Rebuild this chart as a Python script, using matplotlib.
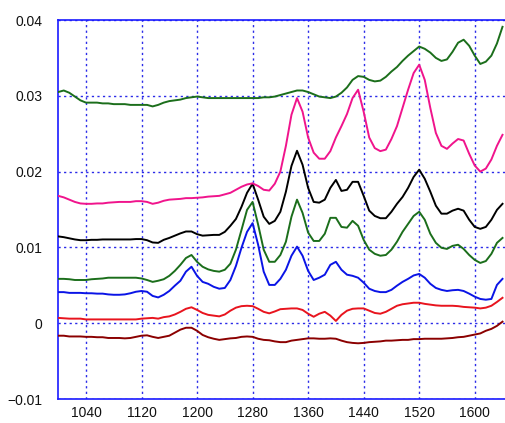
import numpy as np
import matplotlib
matplotlib.use("Agg")
import matplotlib.pyplot as plt

# wavenumber grid (cm^-1)
wavenumber = list(range(1000, 1641, 8))

# absorbance values in milli-absorbance units
top_green_mA = [30.5, 30.7, 30.4, 29.9, 29.4, 29.1, 29.1, 29.1, 29.0, 29.0,
                28.9, 28.9, 28.9, 28.8, 28.8, 28.8, 28.8, 28.6, 28.8, 29.1,
                29.3, 29.4, 29.5, 29.7, 29.8, 29.9, 29.8, 29.7, 29.7, 29.7,
                29.7, 29.7, 29.7, 29.7, 29.7, 29.7, 29.7, 29.8, 29.8, 29.9,
                30.1, 30.3, 30.5, 30.7, 30.7, 30.5, 30.2, 29.9, 29.8, 29.7,
                29.9, 30.4, 31.1, 32.1, 32.6, 32.5, 32.1, 31.9, 32.0, 32.5,
                33.2, 33.8, 34.6, 35.3, 35.9, 36.5, 36.2, 35.7, 35.0, 34.6,
                34.8, 35.8, 37.0, 37.4, 36.6, 35.3, 34.2, 34.5, 35.3, 36.9,
                39.1]
pink_mA = [16.8, 16.6, 16.3, 16.0, 15.8, 15.75, 15.75, 15.8, 15.8, 15.9,
           15.95, 16.0, 16.0, 16.0, 16.1, 16.1, 16.0, 15.75, 15.9, 16.15,
           16.3, 16.35, 16.4, 16.5, 16.5, 16.55, 16.6, 16.7, 16.75, 16.8,
           17.0, 17.2, 17.6, 18.0, 18.3, 18.45, 18.1, 17.6, 17.5, 18.4,
           20.0, 23.4, 27.5, 29.7, 27.9, 24.5, 22.5, 21.7, 21.7, 22.7,
           24.5, 26.0, 27.6, 29.7, 30.8, 27.9, 24.5, 23.1, 22.7, 22.9,
           24.3, 26.0, 28.4, 30.8, 33.0, 34.1, 32.1, 28.4, 25.1, 23.4,
           23.0, 23.7, 24.3, 24.1, 22.35, 20.8, 20.0, 20.4, 21.6, 23.4,
           24.85]
black_mA = [11.45, 11.35, 11.2, 11.05, 10.95, 10.95, 11.0, 11.0, 11.05, 11.05,
            11.05, 11.05, 11.05, 11.05, 11.1, 11.1, 10.95, 10.65, 10.6, 11.0,
            11.25, 11.55, 11.85, 12.1, 12.1, 11.75, 11.55, 11.6, 11.65, 11.65,
            12.05, 12.85, 13.75, 15.35, 17.2, 18.4, 16.3, 14.05, 13.1, 13.5,
            14.7, 17.35, 20.75, 22.75, 20.9, 17.85, 16.0, 15.9, 16.3, 17.85,
            18.9, 17.45, 17.6, 18.65, 18.65, 16.8, 14.85, 14.15, 13.85, 13.85,
            14.7, 15.75, 16.65, 17.85, 19.3, 20.25, 19.05, 17.35, 15.5, 14.45,
            14.45, 14.85, 15.1, 14.85, 13.65, 12.7, 12.45, 12.7, 13.65, 14.95,
            15.75]
green_mA = [5.85, 5.85, 5.8, 5.7, 5.7, 5.7, 5.8, 5.85, 5.9, 6.0,
            6.0, 6.0, 6.0, 6.0, 6.0, 5.9, 5.7, 5.45, 5.6, 5.8,
            6.25, 6.9, 7.7, 8.6, 9.0, 8.1, 7.45, 7.1, 6.9, 6.8,
            7.05, 7.85, 9.7, 12.3, 14.95, 16.0, 13.0, 9.7, 8.1, 8.1,
            9.0, 10.75, 14.05, 16.3, 14.55, 11.95, 10.85, 10.85, 11.8, 13.9,
            13.9, 12.7, 12.6, 13.5, 12.85, 11.0, 9.7, 9.15, 8.9, 9.0,
            9.7, 10.75, 12.05, 13.1, 14.15, 14.7, 13.65, 11.8, 10.6, 9.95,
            9.8, 10.2, 10.35, 9.8, 9.0, 8.35, 7.95, 8.2, 9.15, 10.6,
            11.25]
blue_mA = [4.1, 4.1, 4.0, 4.0, 4.0, 3.95, 3.95, 3.9, 3.9, 3.8,
           3.75, 3.75, 3.8, 3.95, 4.15, 4.25, 4.15, 3.6, 3.4, 3.75,
           4.25, 4.95, 5.6, 6.8, 7.45, 6.25, 5.45, 5.2, 4.8, 4.55,
           4.65, 5.7, 7.55, 9.95, 12.05, 13.2, 10.35, 6.8, 5.05, 5.05,
           5.85, 7.05, 8.9, 10.1, 8.9, 6.9, 5.7, 6.0, 6.4, 7.7,
           8.1, 7.05, 6.4, 6.25, 6.0, 5.35, 4.55, 4.25, 4.1, 4.1,
           4.4, 4.95, 5.45, 5.85, 6.3, 6.5, 6.0, 5.2, 4.65, 4.4,
           4.25, 4.35, 4.4, 4.25, 3.9, 3.5, 3.2, 3.1, 3.2, 5.05,
           5.85]
red_mA = [0.7, 0.65, 0.6, 0.6, 0.6, 0.5, 0.5, 0.5, 0.5, 0.5,
          0.5, 0.5, 0.5, 0.5, 0.5, 0.6, 0.65, 0.7, 0.6, 0.8,
          0.9, 1.15, 1.5, 1.9, 2.1, 1.75, 1.35, 1.1, 1.0, 0.9,
          1.15, 1.65, 2.05, 2.25, 2.3, 2.25, 1.9, 1.5, 1.3, 1.55,
          1.85, 1.9, 1.95, 1.95, 1.75, 1.25, 0.85, 1.25, 1.5, 1.0,
          0.3, 1.1, 1.65, 1.9, 1.95, 1.95, 1.65, 1.35, 1.25, 1.5,
          1.9, 2.3, 2.5, 2.6, 2.7, 2.7, 2.55, 2.45, 2.35, 2.3,
          2.3, 2.3, 2.25, 2.15, 2.1, 2.05, 1.95, 2.05, 2.3, 2.8,
          3.35]
darkred_mA = [-1.65, -1.65, -1.75, -1.75, -1.75, -1.8, -1.8, -1.85, -1.85, -1.95,
              -1.95, -1.95, -2.0, -1.95, -1.8, -1.65, -1.6, -1.8, -1.95, -1.8,
              -1.65, -1.25, -0.85, -0.6, -0.6, -1.0, -1.55, -1.85, -2.05, -2.2,
              -2.1, -2.0, -1.95, -1.8, -1.75, -1.8, -2.05, -2.2, -2.25, -2.4,
              -2.5, -2.5, -2.3, -2.2, -2.1, -2.0, -2.0, -2.05, -2.05, -2.0,
              -2.05, -2.3, -2.5, -2.6, -2.65, -2.6, -2.5, -2.45, -2.4, -2.3,
              -2.3, -2.25, -2.2, -2.2, -2.1, -2.1, -2.05, -2.05, -2.05, -2.05,
              -2.0, -1.95, -1.85, -1.8, -1.65, -1.5, -1.35, -1.0, -0.75, -0.35,
              0.2]

x_ticks = [1040, 1120, 1200, 1280, 1360, 1440, 1520, 1600]
y_ticks = [-0.01, 0, 0.01, 0.02, 0.03, 0.04]
y_tick_labels = ["\u22120.01", "0", "0.01", "0.02", "0.03", "0.04"]

series = [
    (darkred_mA, "#8b0000"),
    (red_mA, "#e8141e"),
    (blue_mA, "#0a14e6"),
    (green_mA, "#1b6e1b"),
    (black_mA, "#000000"),
    (pink_mA, "#f0148c"),
    (top_green_mA, "#1b6e1b"),
]

plt.rcParams['font.family'] = ['Liberation Sans', 'DejaVu Sans']

fig = plt.figure(figsize=(5.05, 4.23), dpi=100)
ax = fig.add_axes([58 / 505, (423 - 399) / 423, 1 - 58 / 505, (399 - 20) / 423])

x = np.array(wavenumber)
for vals, col in series:
    ax.plot(x, np.array(vals) / 1000.0, color=col, lw=1.4, zorder=3)

ax.set_xlim(999.7, 1643.6)
ax.set_ylim(-0.01, 0.04)
ax.set_xticks(x_ticks)
ax.set_xticklabels([str(t) for t in x_ticks])
ax.set_yticks(y_ticks)
ax.set_yticklabels(y_tick_labels)
ax.tick_params(length=0, labelsize=10, colors="#111111", pad=11)
ax.tick_params(axis='x', pad=5)

ax.grid(True, color="#2a2ae8", linestyle=(0, (1.6, 2.4)), linewidth=1.0, zorder=1)

for side in ["left", "top", "bottom"]:
    ax.spines[side].set_color("#1a1aff")
    ax.spines[side].set_linewidth(1.2)
ax.spines["right"].set_visible(False)

fig.savefig("out.png", dpi=100)
